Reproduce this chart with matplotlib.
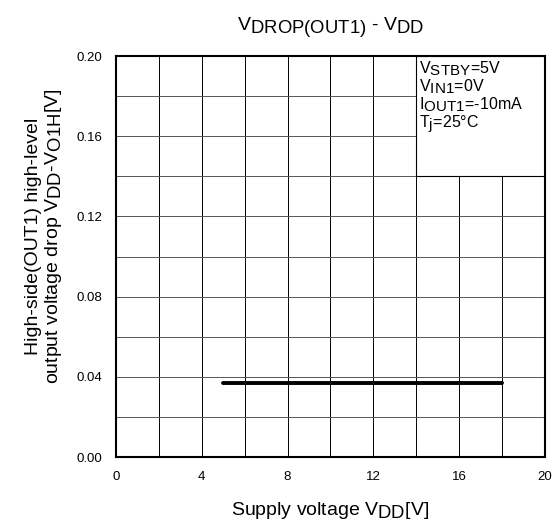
import matplotlib
matplotlib.use("Agg")
import matplotlib.pyplot as plt
import matplotlib._mathtext as _mt
from matplotlib.patches import Rectangle
import numpy as np

_mt.SHRINK_FACTOR = 0.95

plt.rcParams['font.family'] = ['Liberation Sans', 'DejaVu Sans']
plt.rcParams['mathtext.fontset'] = 'custom'
plt.rcParams['mathtext.rm'] = 'Liberation Sans'
plt.rcParams['mathtext.it'] = 'Liberation Sans'

vdd = [5.0, 18.0]
vdrop = [0.037, 0.037]
x_ticks = [0, 4, 8, 12, 16, 20]
y_ticks = [0.00, 0.04, 0.08, 0.12, 0.16, 0.20]
cond_lines = [r"$\mathrm{V_{STBY}}$=5V", r"$\mathrm{V_{IN1}}$=0V",
              r"$\mathrm{I_{OUT1}}$=-10mA", r"$\mathrm{T_{j}}$=25°C"]

fig = plt.figure(figsize=(5.56, 5.27), dpi=100)
ax = fig.add_axes([0.2086, 0.1328, 0.980 - 0.2086, 0.8937 - 0.1328])
ax.set_xlim(0, 20)
ax.set_ylim(0, 0.20)
ax.set_xticks(x_ticks)
ax.set_yticks(y_ticks)
ax.set_xticklabels([str(t) for t in x_ticks])
ax.set_yticklabels([f"{t:.2f}" for t in y_ticks])
ax.set_xticks(np.arange(0, 21, 2), minor=True)
ax.set_yticks(np.arange(0, 0.2001, 0.02), minor=True)
ax.tick_params(which='both', length=0, labelsize=9.5, pad=10)
ax.grid(which='both', axis='x', color='black', lw=0.7)
ax.grid(which='both', axis='y', color='#555555', lw=0.7)
ax.set_axisbelow(True)
for s in ax.spines.values():
    s.set_linewidth(1.5)

ax.add_patch(Rectangle((14, 0.14), 6, 0.06, facecolor='white', edgecolor='black', lw=0.8, zorder=2))
ax.plot(vdd, vdrop, color='black', lw=2.8, solid_capstyle='round', zorder=3)

ax.text(14.12, 0.1985, "\n".join(cond_lines), va='top', ha='left', fontsize=11.5,
        linespacing=0.95, zorder=4)

ax.set_title(r"$\mathrm{V_{DROP(OUT1)}}$ - $\mathrm{V_{DD}}$", fontsize=14, pad=18)
ax.set_xlabel(r"Supply voltage $\mathrm{V_{DD}}$[V]", fontsize=14, labelpad=12)
ax.set_ylabel("High-side(OUT1) high-level\n" + r"output voltage drop $\mathrm{V_{DD}}$-$\mathrm{V_{O1H}}$[V]",
              fontsize=14, linespacing=1.1)
ax.yaxis.set_label_coords(-0.121, 0.551)

fig.savefig("out.png", dpi=100)
